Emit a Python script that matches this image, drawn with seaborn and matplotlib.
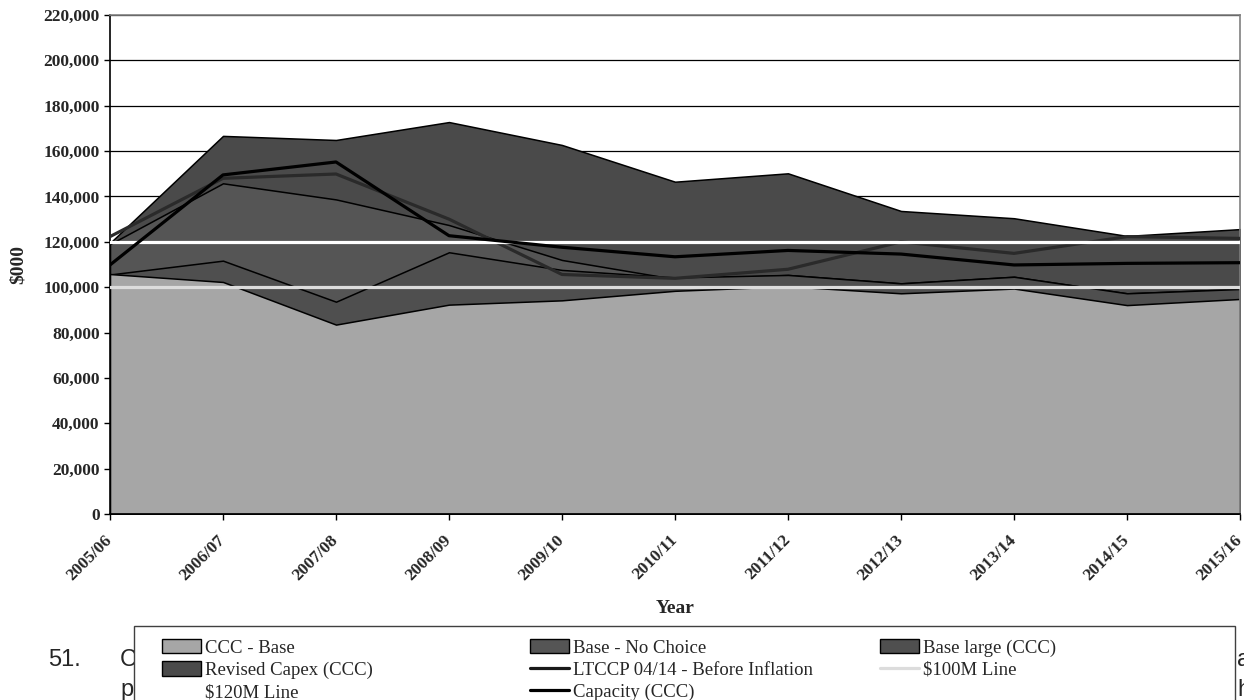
import numpy as np
import pandas as pd
import matplotlib
matplotlib.use("Agg")
import matplotlib.pyplot as plt
from matplotlib.patches import Patch, Rectangle
from matplotlib.lines import Line2D
from matplotlib.ticker import FuncFormatter
import seaborn as sns

# values in $000
years = ["2005/06", "2006/07", "2007/08", "2008/09", "2009/10", "2010/11",
         "2011/12", "2012/13", "2013/14", "2014/15", "2015/16"]
ccc_base = [105800, 102300, 83500, 92300, 94200, 98400, 100400, 97300, 99400, 92100, 94800]
base_no_choice = [105600, 111700, 93600, 115400, 107600, 104300, 105400, 101700, 104600, 97300, 99200]
base_large = [119000, 145800, 138700, 127400, 112000, 103600, 105400, 101700, 104600, 97300, 99200]
revised_capex = [119500, 166700, 164900, 172800, 162700, 146500, 150200, 133600, 130400, 122600, 125600]
ltccp = [122300, 148000, 149900, 130000, 105600, 103900, 107900, 120000, 114900, 122300, 121500]
capacity = [109800, 149500, 155200, 122700, 117600, 113400, 116200, 114600, 109800, 110500, 110800]
line_100m = 100000
line_120m = 120000

W, H = 1244, 700

sns.set_theme(style="white")
plt.rcParams["font.family"] = ["Liberation Serif", "DejaVu Serif"]

df = pd.DataFrame({
    "year": years,
    "ccc_base": ccc_base,
    "base_no_choice": base_no_choice,
    "base_large": base_large,
    "revised_capex": revised_capex,
    "ltccp": ltccp,
    "capacity": capacity,
})
df["x"] = np.arange(len(years))
df["m100"] = line_100m
df["m120"] = line_120m

fig = plt.figure(figsize=(W / 100, H / 100), dpi=100)
ax = fig.add_axes([110 / W, 1 - 514 / H, 1130 / W, 499 / H])

# areas, back to front
area_styles = [
    ("revised_capex", "#4a4a4a"),
    ("base_large", "#555555"),
    ("base_no_choice", "#4f4f4f"),
    ("ccc_base", "#a6a6a6"),
]
for col, colour in area_styles:
    ax.fill_between(df["x"], 0, df[col], facecolor=colour, edgecolor="black", linewidth=1.1, zorder=2)

sns.lineplot(data=df, x="x", y="ltccp", color="#2a2a2a", linewidth=2.3, ax=ax, zorder=3)
sns.lineplot(data=df, x="x", y="m100", color="#dcdcdc", linewidth=2.3, ax=ax, zorder=3)
sns.lineplot(data=df, x="x", y="m120", color="white", linewidth=2.3, ax=ax, zorder=3)
sns.lineplot(data=df, x="x", y="capacity", color="black", linewidth=2.3, ax=ax, zorder=3)

ax.set_xlim(0, len(years) - 1)
ax.set_ylim(0, 220000)
ax.set_yticks(np.arange(0, 220001, 20000))
ax.yaxis.set_major_formatter(FuncFormatter(lambda v, p: f"{v:,.0f}"))
ax.yaxis.grid(True, color="black", linewidth=0.9)
ax.set_axisbelow(True)

ax.set_xticks(df["x"])
ax.set_xticklabels(years, rotation=45, ha="right", va="center", rotation_mode="anchor")
ax.tick_params(axis="both", direction="out", length=4, width=1, color="black",
               left=True, bottom=True, labelsize=12.5)
ax.tick_params(axis="x", pad=13)
for lab in ax.get_xticklabels() + ax.get_yticklabels():
    lab.set_fontweight("bold")

for side in ["left", "bottom"]:
    ax.spines[side].set_color("black")
    ax.spines[side].set_linewidth(1.2)
for side in ["top", "right"]:
    ax.spines[side].set_color("#808080")
    ax.spines[side].set_linewidth(1.2)

ax.set_xlabel("Year", fontsize=14, fontweight="bold", labelpad=12)
ax.set_ylabel("$000", fontsize=14, fontweight="bold", labelpad=12)

# text of the page the chart sits on
doc_font = ["Liberation Sans", "DejaVu Sans"]
fig.text(48 / W, 1 - 660 / H, "51.", fontsize=17, family=doc_font, va="center", zorder=1)
fig.text(120 / W, 1 - 660 / H, "C", fontsize=17, family=doc_font, va="center", zorder=1)
fig.text(120 / W, 1 - 690 / H, "p", fontsize=17, family=doc_font, va="center", zorder=1)
fig.text(1237 / W, 1 - 660 / H, "ati", fontsize=17, family=doc_font, va="center", zorder=1)
fig.text(1237 / W, 1 - 690 / H, "he", fontsize=17, family=doc_font, va="center", zorder=1)

# legend box
fig.patches.append(Rectangle((134 / W, -0.05), (1235 - 134) / W, 1 - 626 / H + 0.05,
                             transform=fig.transFigure, facecolor="white",
                             edgecolor="#404040", linewidth=1, zorder=2))

def area_handle(colour):
    return Patch(facecolor=colour, edgecolor="black", linewidth=1)

columns = [
    (162, [(area_handle("#a6a6a6"), "CCC - Base"),
           (area_handle("#4a4a4a"), "Revised Capex (CCC)"),
           (Line2D([], [], color="white", lw=2.3), "$120M Line")]),
    (530, [(area_handle("#555555"), "Base - No Choice"),
           (Line2D([], [], color="#1a1a1a", lw=2.3), "LTCCP 04/14 - Before Inflation"),
           (Line2D([], [], color="black", lw=2.3), "Capacity (CCC)")]),
    (880, [(area_handle("#4f4f4f"), "Base large (CCC)"),
           (Line2D([], [], color="#dcdcdc", lw=2.3), "$100M Line")]),
]
for x0, items in columns:
    leg = fig.legend([h for h, _ in items], [t for _, t in items], loc="upper left",
                     bbox_to_anchor=(x0 / W, 1 - 639 / H), frameon=False, fontsize=13.5,
                     borderaxespad=0, borderpad=0, handlelength=2.1, handleheight=0.8,
                     handletextpad=0.2, labelspacing=0.24)
    leg.set_zorder(3)

fig.savefig("out.png", dpi=100)
